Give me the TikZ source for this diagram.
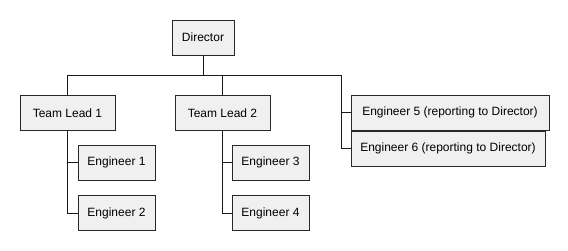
\documentclass[tikz,border=0pt]{standalone}
\usepackage{fontspec}
\setmainfont{Liberation Sans}
\usepackage{xcolor}
\usetikzlibrary{positioning}
\definecolor{boxfill}{RGB}{240,240,240}
\definecolor{boxline}{RGB}{40,40,40}

\begin{document}
\begin{tikzpicture}[x=1pt,y=-1pt,font=\fontsize{12}{14}\selectfont,
  emp/.style={draw=boxline,line width=1pt,fill=boxfill,minimum height=35pt,inner sep=0pt},
  link/.style={draw=black!90,line width=1pt}]
  \useasboundingbox[fill=white] (0,0) rectangle (568,250);
  \node[emp,minimum width=62pt] (director) at (203,37.5) {Director};
  \foreach \i/\x in {1/67.5,2/222.5} \node[emp,minimum width=95pt] (tl\i) at (\x,113) {Team Lead \i};
  \foreach \i/\x/\y in {1/116.5/162.5,2/116.5/213,3/270.5/162.5,4/270.5/213}
    \node[emp,minimum width=77pt] (e\i) at (\x,\y) {Engineer \i};
  \node[emp,minimum width=198pt] (e5) at (450,112.5) {Engineer 5 (reporting to Director)};
  \node[emp,minimum width=194pt] (e6) at (448,148.5) {Engineer 6 (reporting to Director)};
  \coordinate (bus) at (203,75); \coordinate (rbus) at (341,75);
  % director down to the bus, then out to the leads and the direct reports
  \draw[link] (director) -- (bus);
  \draw[link] (tl1.north) |- (rbus);
  \draw[link] (tl2.north) -- (tl2.north |- bus);
  \draw[link] (rbus) |- (e5.west); \draw[link] (rbus) |- (e6.west);
  \draw[link] (tl1.south) |- (e1.west); \draw[link] (tl1.south) |- (e2.west);
  \draw[link] (tl2.south) |- (e3.west); \draw[link] (tl2.south) |- (e4.west);
\end{tikzpicture}
\end{document}
